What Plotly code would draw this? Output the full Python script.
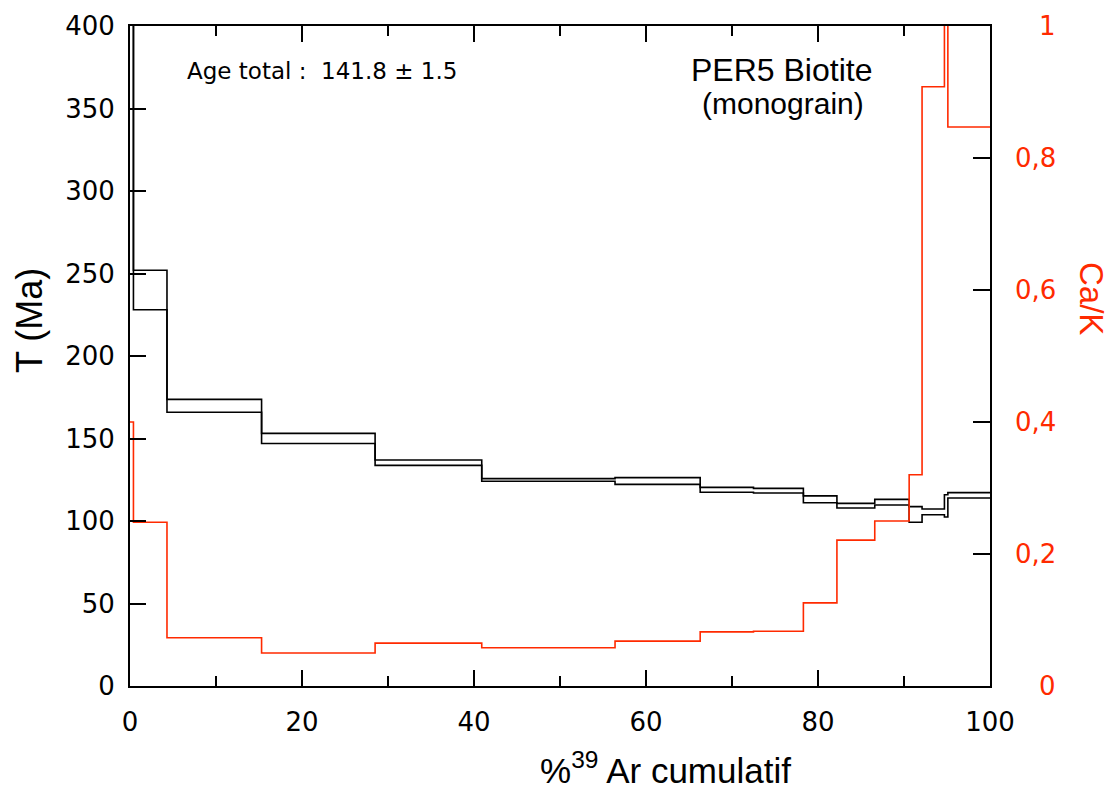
import numpy as np
import plotly.graph_objects as go

# Step boundaries in cumulative % 39Ar released
step_bounds = [0, 0.4, 4.3, 15.3, 28.5, 40.9, 56.4, 66.3, 72.5, 78.3, 82.2,
               86.6, 90.6, 92.1, 94.7, 95.1, 100]
# Apparent age envelope per step (Ma): upper and lower bounds
age_upper = [470, 252, 173.7, 153.1, 137.0, 125.7, 126.3, 120.4, 119.8, 115.2,
             110.7, 113.1, 108.7, 107.3, 115.9, 117.2]
age_lower = [450, 228, 165.9, 147.0, 133.7, 124.1, 122.2, 117.4, 117.0, 111.1,
             107.9, 109.7, 99.2, 103.8, 102.4, 113.9]
# Ca/K ratio per step
ca_k = [0.40, 0.248, 0.073, 0.050, 0.065, 0.058, 0.068, 0.082, 0.083, 0.126,
        0.221, 0.250, 0.320, 0.908, 1.20, 0.847]

y_ticks = list(range(0, 401, 50))
x_ticks = list(range(0, 101, 20))
cak_ticks = [0, 0.2, 0.4, 0.6, 0.8, 1]
cak_labels = ["0", "0,2", "0,4", "0,6", "0,8", "1"]

RED = "#ff2a00"
NUM_FONT = "DejaVu Sans"
TXT_FONT = "Liberation Sans"

W, H = 1116, 789
L, R, T, B = 130, 126, 26, 103
PW, PH = W - L - R, H - T - B


def step_xy(bounds, vals):
    """Coordinates for an 'hv' step line spanning every step."""
    x = list(bounds[:-1]) + [bounds[-1]]
    y = list(vals) + [vals[-1]]
    return x, y


def px(xp):
    return (xp - L) / PW


def py(yp):
    return (T + PH - yp) / PH


fig = go.Figure()

for env in (age_upper, age_lower):
    xs, ys = step_xy(step_bounds, env)
    fig.add_trace(go.Scatter(x=xs, y=ys, mode="lines", line_shape="hv",
                             line=dict(color="black", width=1.6),
                             hoverinfo="skip", showlegend=False))

xs, ys = step_xy(step_bounds, ca_k)
fig.add_trace(go.Scatter(x=xs, y=ys, mode="lines", line_shape="hv",
                         line=dict(color=RED, width=1.6), yaxis="y2",
                         hoverinfo="skip", showlegend=False))

fig.update_layout(
    width=W, height=H,
    margin=dict(l=L, r=R, t=T, b=B, pad=0),
    paper_bgcolor="white", plot_bgcolor="white",
    xaxis=dict(range=[0, 100], tickvals=x_ticks, ticks="inside", ticklen=16,
               tickwidth=2, tickcolor="black",
               minor=dict(dtick=10, ticks="inside", ticklen=10, tickwidth=2,
                          tickcolor="black"),
               showline=True, linecolor="black", linewidth=2, mirror="ticks",
               showgrid=False, zeroline=False,
               tickfont=dict(family=NUM_FONT, size=26, color="black"),
               ticklabelstandoff=12),
    yaxis=dict(range=[0, 400], tickvals=y_ticks, ticks="inside", ticklen=16,
               tickwidth=2, tickcolor="black",
               showline=True, linecolor="black", linewidth=2,
               showgrid=False, zeroline=False,
               tickfont=dict(family=NUM_FONT, size=26, color="black"),
               ticklabelstandoff=8),
    yaxis2=dict(range=[0, 1], tickvals=cak_ticks, overlaying="y", side="right",
                ticks="inside", ticklen=17, tickwidth=2, tickcolor="black",
                showline=True, linecolor="black", linewidth=2,
                showgrid=False, zeroline=False, showticklabels=False),
)

# Right-hand Ca/K tick labels, right aligned
for v, lab in zip(cak_ticks, cak_labels):
    fig.add_annotation(x=px(1058), xref="paper", y=v, yref="y2",
                       text=lab, showarrow=False, xanchor="right",
                       yanchor="middle",
                       font=dict(family=NUM_FONT, size=26, color=RED))

# Axis titles
fig.add_annotation(x=px(29), y=py(321), xref="paper", yref="paper",
                   text="T (Ma)", textangle=-90, showarrow=False,
                   xanchor="center", yanchor="middle",
                   font=dict(family=TXT_FONT, size=36, color="black"))
fig.add_annotation(x=px(665), y=py(768), xref="paper", yref="paper",
                   text="%<sup>39</sup> Ar cumulatif", showarrow=False,
                   xanchor="center", yanchor="middle",
                   font=dict(family=TXT_FONT, size=35, color="black"))
fig.add_annotation(x=px(1092), y=py(298), xref="paper", yref="paper",
                   text="Ca/K", textangle=90, showarrow=False,
                   xanchor="center", yanchor="middle",
                   font=dict(family=TXT_FONT, size=33, color=RED))

# In-plot labels
fig.add_annotation(x=px(185), y=py(71), xref="paper", yref="paper",
                   text="Age total :\u00a0 141.8 ± 1.5", showarrow=False,
                   xanchor="left", yanchor="middle",
                   font=dict(family=NUM_FONT, size=23, color="black"))
fig.add_annotation(x=px(781), y=py(70), xref="paper", yref="paper",
                   text="PER5 Biotite", showarrow=False,
                   xanchor="center", yanchor="middle",
                   font=dict(family=TXT_FONT, size=32, color="black"))
fig.add_annotation(x=px(783), y=py(104), xref="paper", yref="paper",
                   text="(monograin)", showarrow=False,
                   xanchor="center", yanchor="middle",
                   font=dict(family=TXT_FONT, size=30, color="black"))

fig.write_html("out.html")
